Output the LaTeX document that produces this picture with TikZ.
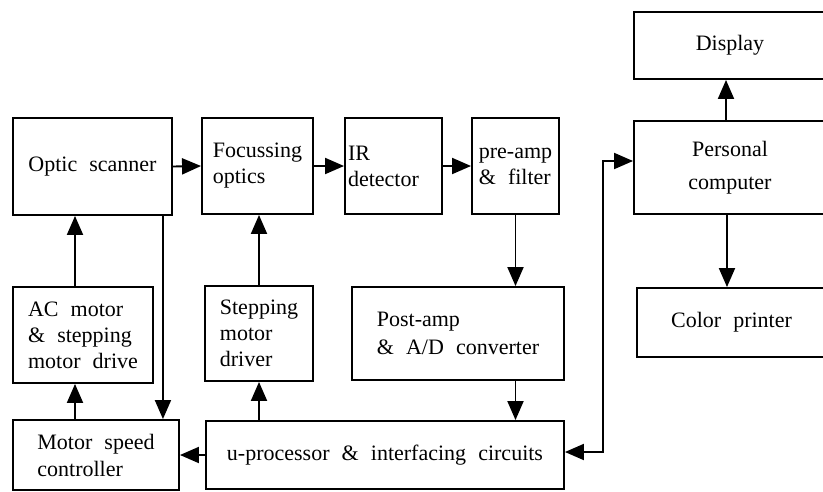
\documentclass[tikz,border=0pt]{standalone}
\usepackage{fontspec}
\setmainfont{Liberation Serif}[WordSpace=2.2]
\usetikzlibrary{arrows.meta}

\begin{document}
\begin{tikzpicture}[x=1pt,y=-1pt,
	blk/.style={draw,line width=1.9pt,inner xsep=0pt,inner ysep=0pt,align=left,
		font=\fontsize{22}{26}\selectfont},
	arr/.style={line width=1.9pt,-{Triangle[length=19pt,width=16pt]}},
	darr/.style={line width=1.9pt,{Triangle[length=19pt,width=16pt]}-{Triangle[length=19pt,width=16pt]}}]
	\useasboundingbox (0,0) rectangle (823,491);
	
	%top row
	\node[blk,minimum width=159,minimum height=97,align=center] (scan) at (92.5,166.5) {Optic scanner};
	\node[blk,minimum width=111,minimum height=96] (focus) at (257.5,166) {Focussing\\optics};
	\node[blk,minimum width=97,minimum height=96,text width=91,inner xsep=3] (ir) at (393.5,166) {IR\\detector};
	\node[blk,minimum width=87,minimum height=96] (pre) at (515.5,166) {pre-amp\\\& filter};
	
	%middle row
	\node[blk,minimum width=140,minimum height=96] (acm) at (83,335) {AC motor\\\& stepping\\motor drive};
	\node[blk,minimum width=108,minimum height=95] (stp) at (259,333.5) {Stepping\\motor\\driver};
	\node[blk,minimum width=212,minimum height=93,font=\fontsize{22}{28}\selectfont] (post) at (458,333.5) {Post-amp\\\& A/D converter};
	
	%bottom row
	\node[blk,minimum width=166,minimum height=70,font=\fontsize{22}{27}\selectfont] (msc) at (96,455) {Motor speed\\controller};
	\node[blk,minimum width=358,minimum height=68,align=center] (up) at (385,455) {u-processor \& interfacing circuits};
	
	%computer side
	\node[blk,minimum width=192,minimum height=67,align=center] (disp) at (730,45.5) {Display};
	\node[blk,minimum width=192,minimum height=93,align=center,font=\fontsize{22}{33}\selectfont] (pc) at (730,167.5) {Personal\\computer};
	\node[blk,minimum width=189,minimum height=69,align=center] (prn) at (731.5,322.5) {Color printer};
	
	%arrows
	\draw[arr] (scan.east) -- (focus.west);
	\draw[arr] (focus.east) -- (ir.west);
	\draw[arr] (ir.east) -- (pre.west);
	\draw[arr] ([xshift=-8pt]acm.north) -- ([xshift=-8pt]acm.north |- scan.south);
	\draw[arr] ([xshift=-10pt]scan.south east) -- ([xshift=-10pt]scan.south east |- msc.north);
	\draw[arr] ([xshift=-8pt]acm.south |- msc.north) -- ([xshift=-8pt]acm.south);
	\draw[arr] (stp.north) -- (stp.north |- focus.south);
	\draw[arr] (stp.south |- up.north) -- (stp.south);
	\draw[arr] (up.west) -- (msc.east);
	\draw[arr] (pre.south) -- (pre.south |- post.north);
	\draw[arr] (pre.south |- post.south) -- (pre.south |- up.north);
	\draw[darr] ([yshift=3pt]up.east) -- ++(38,0) |- ([yshift=6.5pt]pc.west);
	\draw[arr] ([xshift=-4pt]pc.north) -- ([xshift=-4pt]pc.north |- disp.south);
	\draw[arr] ([xshift=-3pt]pc.south) -- ([xshift=-3pt]pc.south |- prn.north);
	
	%\draw[help lines] (0,0) grid (823,491);
\end{tikzpicture}
\end{document}
